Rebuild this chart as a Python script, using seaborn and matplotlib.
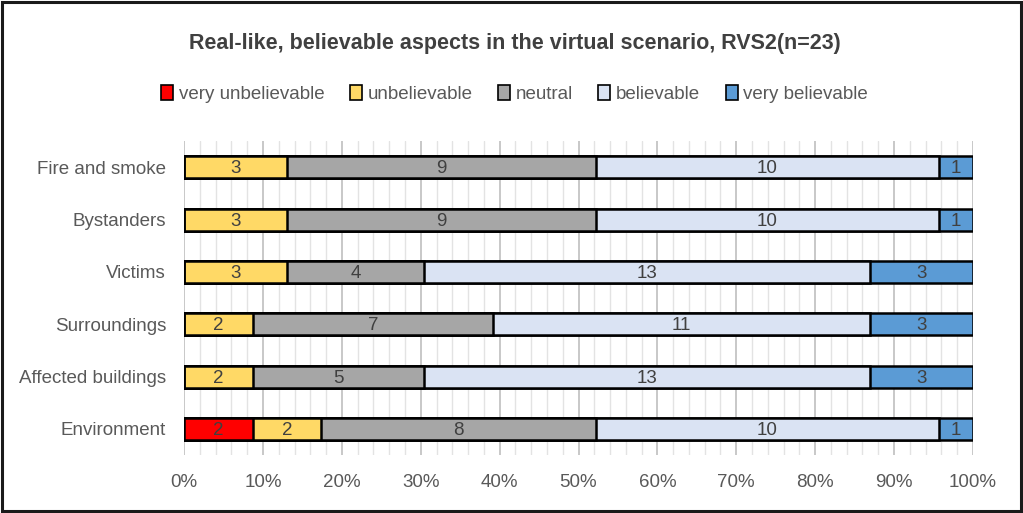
import matplotlib
matplotlib.use("Agg")
import matplotlib.pyplot as plt
from matplotlib.patches import Patch, Rectangle
from matplotlib.ticker import MultipleLocator, PercentFormatter
import numpy as np
import pandas as pd
import seaborn as sns

# ---- data ----
aspects = ["Fire and smoke", "Bystanders", "Victims", "Surroundings",
           "Affected buildings", "Environment"]
ratings = ["very unbelievable", "unbelievable", "neutral", "believable", "very believable"]
very_unbelievable = [0, 0, 0, 0, 0, 2]
unbelievable = [3, 3, 3, 2, 2, 2]
neutral = [9, 9, 4, 7, 5, 8]
believable = [10, 10, 13, 11, 13, 10]
very_believable = [1, 1, 3, 3, 3, 1]
colors = ["#FF0000", "#FFD966", "#A6A6A6", "#DAE3F3", "#5B9BD5"]
title = "Real-like, believable aspects in the virtual scenario, RVS2(n=23)"

sns.set_theme(style="white")
plt.rcParams["font.family"] = ["Liberation Sans", "DejaVu Sans"]

counts = np.array([very_unbelievable, unbelievable, neutral, believable, very_believable], dtype=float)
totals = counts.sum(axis=0)
pct = counts / totals * 100
cum = np.cumsum(pct, axis=0)
starts = cum - pct

fig = plt.figure(figsize=(10.23, 5.13), dpi=100)
ax = fig.add_axes([0.180, 0.113, 0.771, 0.612])

# draw cumulative bars from the largest to the smallest so they stack visually
for i in range(len(ratings) - 1, -1, -1):
    df = pd.DataFrame({"aspect": aspects, "value": cum[i]})
    sns.barplot(data=df, x="value", y="aspect", order=aspects, orient="h",
                color=colors[i], saturation=1, width=0.42,
                edgecolor="black", linewidth=1.8, ax=ax, zorder=3)

for i in range(len(ratings)):
    for j in range(len(aspects)):
        if counts[i, j] > 0:
            ax.text(starts[i, j] + pct[i, j] / 2, j + 0.03, f"{int(counts[i, j])}",
                    ha="center", va="center", fontsize=13.5, color="#404040", zorder=4)

ax.set_xlim(0, 100)
ax.set_ylim(5.5, -0.5)
ax.xaxis.set_major_locator(MultipleLocator(10))
ax.xaxis.set_minor_locator(MultipleLocator(2))
ax.xaxis.set_major_formatter(PercentFormatter(decimals=0))
ax.grid(axis="x", which="major", color="#BFBFBF", linewidth=1.2, zorder=0)
ax.grid(axis="x", which="minor", color="#E3E3E3", linewidth=1.0, zorder=0)
ax.grid(axis="y", visible=False)
ax.set_axisbelow(True)
for s in ax.spines.values():
    s.set_visible(False)
ax.set_xlabel("")
ax.set_ylabel("")
ax.tick_params(axis="both", length=0, labelsize=13.5, colors="#595959")
ax.tick_params(axis="x", pad=14)
ax.tick_params(axis="y", pad=13)

fig.text(0.503, 0.916, title, ha="center", va="center", fontsize=15.5,
         fontweight="bold", color="#404040")

handles = [Patch(facecolor=c, edgecolor="black", linewidth=1.2, label=r)
           for c, r in zip(colors, ratings)]
fig.legend(handles=handles, loc="center", bbox_to_anchor=(0.503, 0.817), ncol=5,
           frameon=False, fontsize=13.5, handlelength=0.65, handleheight=0.85,
           handletextpad=0.3, columnspacing=1.35, labelcolor="#595959")

fig.patches.append(Rectangle((0.002, 0.003), 0.996, 0.994, transform=fig.transFigure,
                             fill=False, edgecolor="#1A1A1A", linewidth=2.2))

fig.savefig("out.png", dpi=100)
